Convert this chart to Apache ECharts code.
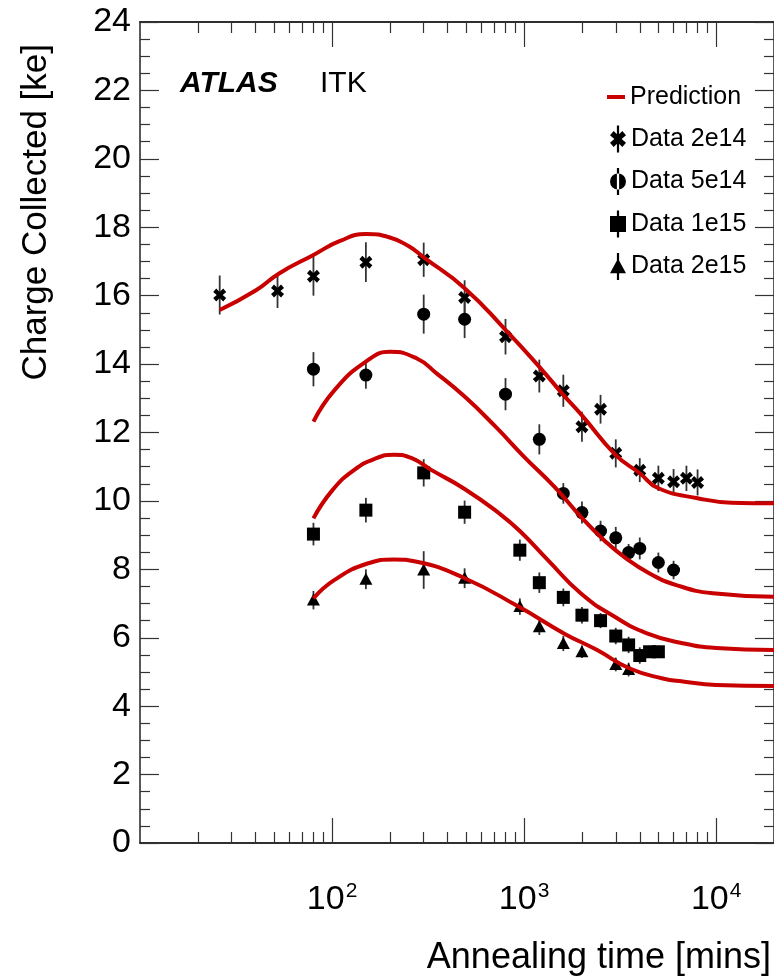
<!DOCTYPE html>
<html>
<head>
<meta charset="utf-8">
<script src="https://cdn.jsdelivr.net/npm/echarts@6/dist/echarts.min.js"></script>
<style>
  html, body { margin: 0; padding: 0; background: #fff; }
  #chart { width: 774px; height: 977px; }
</style>
</head>
<body>
<div id="chart"></div>
<script>
// annealing time in minutes, charge in ke
var pred2e14X = [26, 40, 53, 80, 110, 150, 200, 250, 300, 490, 800, 1200, 1600, 2000, 3000, 4000, 5000, 8000, 12000, 20000];
var pred2e14Y = [15.58, 16.15, 16.65, 17.19, 17.6, 17.8, 17.7, 17.45, 17.12, 16.22, 15.0, 13.92, 13.1, 12.5, 11.34, 10.81, 10.37, 10.08, 9.95, 9.93];
var pred5e14X = [80, 103, 150, 200, 275, 350, 490, 710, 1000, 1440, 1970, 2600, 3300, 4500, 6200, 9600, 20000];
var pred5e14Y = [12.32, 13.24, 14.07, 14.36, 14.17, 13.73, 13.05, 12.17, 11.29, 10.41, 9.54, 8.86, 8.37, 7.88, 7.54, 7.30, 7.2];
var pred1e15X = [80, 100, 130, 170, 210, 260, 330, 490, 740, 950, 1330, 1970, 2950, 4360, 6700, 10000, 20000];
var pred1e15Y = [9.49, 10.3, 10.9, 11.25, 11.35, 11.25, 10.9, 10.35, 9.64, 9.12, 8.27, 7.30, 6.62, 6.13, 5.84, 5.7, 5.64];
var pred2e15X = [80, 103, 153, 210, 276, 490, 935, 1620, 2400, 3550, 5270, 6700, 10000, 20000];
var pred2e15Y = [7.15, 7.69, 8.17, 8.29, 8.22, 7.74, 6.91, 6.12, 5.64, 5.10, 4.81, 4.72, 4.62, 4.59];

var d2e14X = [26, 52, 80, 150, 300, 490, 800, 1200, 1600, 2000, 2500, 3000, 4000, 5000, 6000, 7000, 8000];
var d2e14Y = [16.02, 16.14, 16.57, 16.98, 17.05, 15.95, 14.80, 13.65, 13.22, 12.17, 12.68, 11.39, 10.90, 10.66, 10.56, 10.66, 10.54];
var d2e14E = [0.57, 0.5, 0.57, 0.58, 0.5, 0.5, 0.52, 0.48, 0.47, 0.44, 0.42, 0.41, 0.35, 0.37, 0.37, 0.37, 0.38];

var d5e14X = [80, 150, 300, 490, 800, 1200, 1600, 2000, 2500, 3000, 3500, 4000, 5000, 6000];
var d5e14Y = [13.85, 13.68, 15.46, 15.31, 13.12, 11.80, 10.22, 9.66, 9.12, 8.92, 8.49, 8.61, 8.20, 7.98];
var d5e14E = [0.5, 0.4, 0.57, 0.55, 0.47, 0.44, 0.3, 0.32, 0.3, 0.32, 0.25, 0.32, 0.29, 0.27];

var d1e15X = [80, 150, 300, 490, 950, 1200, 1600, 2000, 2500, 3000, 3500, 4000, 4500, 5000];
var d1e15Y = [9.03, 9.73, 10.82, 9.67, 8.56, 7.61, 7.18, 6.66, 6.50, 6.05, 5.79, 5.48, 5.59, 5.59];
var d1e15E = [0.33, 0.36, 0.4, 0.34, 0.31, 0.3, 0.26, 0.24, 0.22, 0.24, 0.24, 0.24, 0.18, 0.18];

var d2e15X = [80, 150, 300, 490, 950, 1200, 1600, 2000, 3000, 3500];
var d2e15Y = [7.10, 7.71, 7.98, 7.74, 6.91, 6.32, 5.83, 5.59, 5.22, 5.07];
var d2e15E = [0.27, 0.29, 0.55, 0.29, 0.24, 0.24, 0.22, 0.18, 0.2, 0.2];

var xMajorTicks = [100, 1000, 10000];
var xMinorTicks = [20, 30, 40, 50, 60, 70, 80, 90, 200, 300, 400, 500, 600, 700, 800, 900,
                   2000, 3000, 4000, 5000, 6000, 7000, 8000, 9000];
var xMin = 10, xMax = 20000;

var FONT = 'Liberation Sans, Arial, Helvetica, sans-serif';
var RED = '#c80000';

function lg(v) { return Math.log10(v); }
function curve(xs, ys) {
    return xs.map(function (x, i) { return [lg(x), ys[i]]; });
}
function points(xs, ys, es) {
    return xs.map(function (x, i) { return [lg(x), ys[i], es[i]]; });
}

// marker shapes around pixel centre c
function marker(kind, c) {
    var x = c[0], y = c[1];
    var st = { fill: '#000' };
    if (kind === 'circle') {
        return { type: 'circle', shape: { cx: x, cy: y, r: 6.5 }, style: st };
    }
    if (kind === 'square') {
        return { type: 'rect', shape: { x: x - 6.5, y: y - 6.5, width: 13, height: 13 }, style: st };
    }
    if (kind === 'triangle') {
        return { type: 'polygon', shape: { points: [[x, y - 6.5], [x + 6.5, y + 5.5], [x - 6.5, y + 5.5]] }, style: st };
    }
    // thick X
    var p = [[-6.5, -3], [-3.5, -6.5], [0, -3], [3.5, -6.5], [6.5, -3], [3, 0], [6.5, 3], [3.5, 6.5], [0, 3], [-3.5, 6.5], [-6.5, 3], [-3, 0]];
    return { type: 'polygon', shape: { points: p.map(function (q) { return [x + q[0], y + q[1]]; }) }, style: st };
}

function dataSeries(name, kind, data) {
    return {
        name: name,
        type: 'custom',
        data: data,
        encode: { x: 0, y: 1 },
        z: 2,
        renderItem: function (params, api) {
            var x = api.value(0), y = api.value(1), e = api.value(2);
            var c = api.coord([x, y]);
            var lo = api.coord([x, y - e]);
            var hi = api.coord([x, y + e]);
            return {
                type: 'group',
                children: [
                    { type: 'line', shape: { x1: c[0], y1: lo[1], x2: c[0], y2: hi[1] },
                      style: { stroke: '#333', lineWidth: 1.8 } },
                    marker(kind, c)
                ]
            };
        }
    };
}

function predSeries(xs, ys) {
    return {
        name: 'Prediction',
        type: 'line',
        data: curve(xs, ys),
        smooth: 0.5,
        showSymbol: false,
        symbol: 'none',
        z: 3,
        itemStyle: { color: RED },
        lineStyle: { color: RED, width: 4 }
    };
}

// legend icons, drawn in a 13 x 22 box (marker plus error bar)
var bar = 'M5.6,0 H7.4 V22 H5.6 Z ';
var icons = {
    cross: 'path://' + bar + 'M0,8 L3,4.5 L6.5,8 L10,4.5 L13,8 L9.5,11 L13,14 L10,17.5 L6.5,14 L3,17.5 L0,14 L3.5,11 Z',
    circle: 'path://' + bar + 'M0,11 A6.5,6.5 0 1,0 13,11 A6.5,6.5 0 1,0 0,11 Z',
    square: 'path://' + bar + 'M0,4.5 H13 V17.5 H0 Z',
    triangle: 'path://' + bar + 'M6.5,4.5 L13,16.5 L0,16.5 Z'
};

var axisLine = { show: true, lineStyle: { color: '#222', width: 1.5 } };
var tickStyle = { color: '#333', width: 1.2 };
var legendText = { fontFamily: FONT, fontSize: 25, color: '#000', lineHeight: 28 };

function xAxisDef(pos, ticks, len, labels) {
    return {
        type: 'value',
        position: pos,
        min: lg(xMin),
        max: lg(xMax),
        axisLine: axisLine,
        splitLine: { show: false },
        axisTick: { show: true, inside: true, length: len, lineStyle: tickStyle,
                    customValues: ticks.map(lg) },
        axisLabel: labels ? {
            show: true,
            margin: 38,
            customValues: ticks.map(lg),
            formatter: function (v) { return '{b|10}{s|' + Math.round(v) + '}'; },
            rich: {
                b: { fontFamily: FONT, fontSize: 34, color: '#000', lineHeight: 38 },
                s: { fontFamily: FONT, fontSize: 21, color: '#000', verticalAlign: 'top', lineHeight: 38, padding: [0, 0, 9, 1] }
            }
        } : { show: false }
    };
}

function yAxisDef(pos, labels) {
    return {
        type: 'value',
        position: pos,
        min: 0,
        max: 24,
        interval: 2,
        axisLine: axisLine,
        splitLine: { show: false },
        axisTick: { show: true, inside: true, length: 19, lineStyle: tickStyle },
        minorTick: { show: true, splitNumber: 4, length: 10, lineStyle: tickStyle },
        axisLabel: labels ? {
            show: true, margin: 9, fontFamily: FONT, fontSize: 34, color: '#000'
        } : { show: false }
    };
}

var chart = echarts.init(document.getElementById('chart'));

chart.setOption({
    animation: false,
    backgroundColor: '#fff',
    grid: { left: 140, top: 22, right: -8, bottom: 134 },
    xAxis: [
        xAxisDef('bottom', xMajorTicks, 25, true),
        xAxisDef('bottom', xMinorTicks, 11, false),
        xAxisDef('top', xMajorTicks, 25, false),
        xAxisDef('top', xMinorTicks, 11, false)
    ],
    yAxis: [
        yAxisDef('left', true),
        yAxisDef('right', false)
    ],
    legend: [
        {
            orient: 'vertical',
            left: 602,
            top: 78,
            itemWidth: 18,
            itemHeight: 4,
            textStyle: legendText,
            data: [{ name: 'Prediction', icon: 'rect', itemStyle: { color: RED } }]
        },
        {
            orient: 'vertical',
            left: 605,
            top: 120,
            itemWidth: 16,
            itemHeight: 27.5,
            itemGap: 14.5,
            textStyle: legendText,
            data: [
                { name: 'Data 2e14', icon: icons.cross, itemStyle: { color: '#000' } },
                { name: 'Data 5e14', icon: icons.circle, itemStyle: { color: '#000' } },
                { name: 'Data 1e15', icon: icons.square, itemStyle: { color: '#000' } },
                { name: 'Data 2e15', icon: icons.triangle, itemStyle: { color: '#000' } }
            ]
        }
    ],
    graphic: [
        { type: 'text', left: 180, top: 69,
          style: { text: 'ATLAS', font: 'italic bold 30px ' + FONT, fill: '#000' } },
        { type: 'text', left: 320, top: 69,
          style: { text: 'ITK', font: '30px ' + FONT, fill: '#000' } },
        { type: 'text', x: 771, y: 958, style: { text: 'Annealing time [mins]', font: '36px ' + FONT,
          fill: '#000', align: 'right', verticalAlign: 'middle' } },
        { type: 'text', x: 36, y: 44, rotation: Math.PI / 2,
          style: { text: 'Charge Collected [ke]', font: '35px ' + FONT,
          fill: '#000', align: 'right', verticalAlign: 'middle' } }
    ],
    series: [
        dataSeries('Data 2e14', 'cross', points(d2e14X, d2e14Y, d2e14E)),
        dataSeries('Data 5e14', 'circle', points(d5e14X, d5e14Y, d5e14E)),
        dataSeries('Data 1e15', 'square', points(d1e15X, d1e15Y, d1e15E)),
        dataSeries('Data 2e15', 'triangle', points(d2e15X, d2e15Y, d2e15E)),
        predSeries(pred2e14X, pred2e14Y),
        predSeries(pred5e14X, pred5e14Y),
        predSeries(pred1e15X, pred1e15Y),
        predSeries(pred2e15X, pred2e15Y)
    ]
});
</script>
</body>
</html>
